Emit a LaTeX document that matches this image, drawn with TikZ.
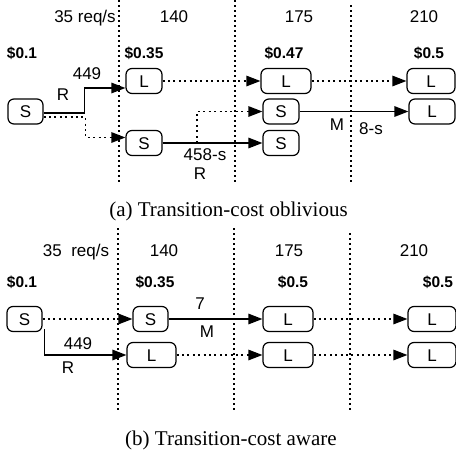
\documentclass[tikz,border=0pt]{standalone}
\usepackage{fontspec}
\setmainfont{Liberation Serif}
\setsansfont{Liberation Sans}
\usetikzlibrary{arrows.meta}
\begin{document}
\begin{tikzpicture}[x=1pt,y=-1pt,
 box/.style={draw,line width=1.2pt,rounded corners=6pt,inner sep=0pt,minimum height=25pt,
   text height=12.2pt,text depth=0pt,font=\sffamily\fontsize{17}{17}\selectfont},
 lbl/.style={font=\sffamily\fontsize{17}{17}\selectfont,inner sep=0pt,text height=12.2pt,text depth=0pt},
 price/.style={font=\sffamily\bfseries\fontsize{15.5}{15.5}\selectfont,inner sep=0pt,text height=11.1pt,text depth=0pt},
 captext/.style={font=\fontsize{21}{21}\selectfont,inner sep=0pt,anchor=base},
 sep/.style={line width=1.5pt,dash pattern=on 1.5pt off 3.5pt},
 dotarr/.style={line width=1.3pt,dash pattern=on 2pt off 3.4pt,-{Triangle[length=14pt,width=10.5pt]}},
 solarr/.style={line width=1.4pt,-{Triangle[length=14pt,width=10.5pt]}},
]
\fill[white] (0,0) rectangle (456,451);
\useasboundingbox (0,0) rectangle (456,451);

% ---------- (a) ----------
\draw[sep] (119,0) -- (119,182);
\draw[sep] (235,0) -- (235,182);
\draw[sep] (351,5) -- (351,183);

\node[lbl] (ah0) at (85,16) {35 req/s};
\node[lbl] (ah1) at (174,16) {140};
\node[lbl] (ah2) at (299,16) {175};
\node[lbl] (ah3) at (424,16) {210};

\node[price] (ap0) at (22,53) {\$0.1};
\node[price] (ap1) at (144,53) {\$0.35};
\node[price] (ap2) at (284,53) {\$0.47};
\node[price] (ap3) at (429,53) {\$0.5};

\node[box,minimum width=35pt] (a0) at (25.5,111.5) {S};
\node[box,minimum width=36pt] (a1L) at (144,81) {L};
\node[box,minimum width=36pt] (a1S) at (144,143) {S};
\node[box,minimum width=50pt] (a2L) at (286,81) {L};
\node[box,minimum width=36pt] (a2S1) at (281,111.5) {S};
\node[box,minimum width=36pt] (a2S2) at (281,143) {S};
\node[box,minimum width=48pt] (a3L1) at (431,81) {L};
\node[box,minimum width=46pt] (a3L2) at (432,111.5) {L};

\draw[solarr] ([yshift=-1.5pt]a0.east) -- ++(41,0) |- ([yshift=-7pt]a1L.west);
\draw[dotarr] ([yshift=-5.5pt]a0.east) -- ++(42,0) |- ([yshift=5.5pt]a1S.west);
\draw[dotarr] (a1L.east) -- (a2L.west);
\draw[solarr] (a1S.east) -- (a2S2.west);
\coordinate (ja) at (197,143);
\draw[dotarr] (ja) |- (a2S1.west);
\draw[dotarr] (a2L.east) -- (a3L1.west);
\draw[solarr] (a2S1.east) -- (a3L2.west);

\node[lbl] (al1) at (87,73) {449};
\node[lbl] (al2) at (63,94) {R};
\node[lbl] (al3) at (205,154) {458-s};
\node[lbl] (al4) at (200,173) {R};
\node[lbl] (al5) at (337,124) {M};
\node[lbl] (al6) at (371,128) {8-s};

\node[captext] (capa) at (228.5,216) {(a) Transition-cost oblivious};

% ---------- (b) ----------
\draw[sep] (118,228) -- (118,410);
\draw[sep] (234,228) -- (234,410);
\draw[sep] (350,233) -- (350,412);

\node[lbl] (bh0) at (76,250) {35\ \ req/s};
\node[lbl] (bh1) at (164,250) {140};
\node[lbl] (bh2) at (289,250) {175};
\node[lbl] (bh3) at (414,250) {210};

\node[price] (bp0) at (22,282) {\$0.1};
\node[price] (bp1) at (155,282) {\$0.35};
\node[price] (bp2) at (293,282) {\$0.5};
\node[price] (bp3) at (438,282) {\$0.5};

\node[box,minimum width=35pt] (b0) at (24.5,319) {S};
\node[box,minimum width=35pt] (b1S) at (150.5,319) {S};
\node[box,minimum width=49pt] (b1L) at (151.5,355) {L};
\node[box,minimum width=50pt] (b2L1) at (288,319) {L};
\node[box,minimum width=50pt] (b2L2) at (288,355) {L};
\node[box,minimum width=48pt] (b3L1) at (432,319) {L};
\node[box,minimum width=48pt] (b3L2) at (432,355) {L};

\draw[dotarr] (b0.east) -- (b1S.west);
\draw[solarr] ([xshift=2pt,yshift=3pt]b0.south east) |- (b1L.west);
\draw[solarr] (b1S.east) -- (b2L1.west);
\draw[dotarr] (b1L.east) -- (b2L2.west);
\draw[dotarr] (b2L1.east) -- (b3L1.west);
\draw[dotarr] (b2L2.east) -- (b3L2.west);

\node[lbl] (bl1) at (78,343) {449};
\node[lbl] (bl2) at (68,367) {R};
\node[lbl] (bl3) at (200,303) {7};
\node[lbl] (bl4) at (207,331) {M};

\node[captext] (capb) at (231,445) {(b) Transition-cost aware};
\end{tikzpicture}
\end{document}
